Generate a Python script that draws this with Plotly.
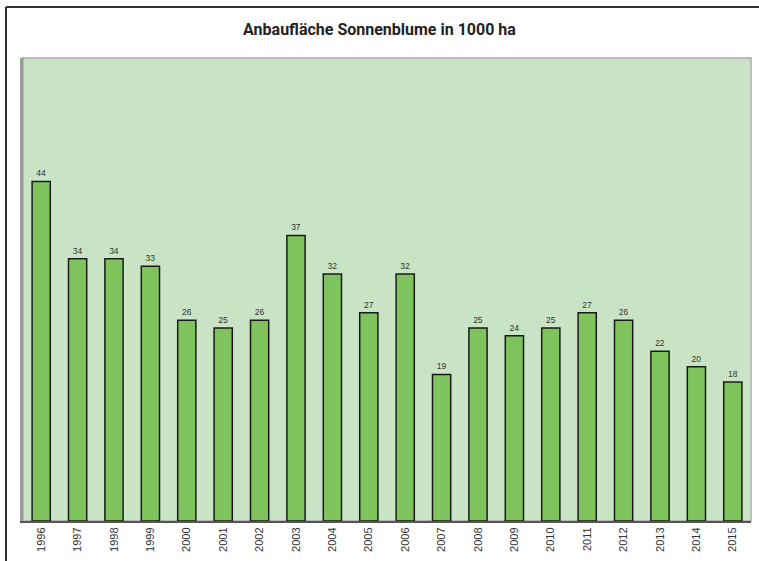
import plotly.graph_objects as go

years = [str(y) for y in range(1996, 2016)]
area = [44, 34, 34, 33, 26, 25, 26, 37, 32, 27, 32, 19, 25, 24, 25, 27, 26, 22, 20, 18]

W, H = 759, 561
ML, MR, MT, MB = 23, 8, 58, 40
pw, ph = W - ML - MR, H - MT - MB

def px_x(v):
    return (v - ML) / pw

def px_y(v):
    return (H - MB - v) / ph

fig = go.Figure(go.Bar(
    x=years, y=area,
    marker=dict(color="#7fc35c", line=dict(color="#1a1a1a", width=1.5)),
    text=[str(v) for v in area], textposition="outside",
    textfont=dict(size=8.5, color="#333333", family="Liberation Sans"),
    cliponaxis=False,
))

fig.update_layout(
    width=W, height=H,
    margin=dict(l=ML, r=MR, t=MT, b=MB),
    paper_bgcolor="white", plot_bgcolor="#c9e4c5",
    bargap=0.5,
    showlegend=False,
    title=dict(text="<b>Anbaufläche Sonnenblume in 1000 ha</b>", x=0.5, xanchor="center",
               y=1 - 29 / H, yanchor="middle",
               font=dict(family="Roboto", size=16, color="#222222")),
    xaxis=dict(tickangle=-90, tickfont=dict(family="Liberation Sans", size=11, color="#333333"),
               showline=True, linecolor="#555555", linewidth=2, ticks="", mirror=False),
    yaxis=dict(range=[0, 60], showticklabels=False, showgrid=False, zeroline=False,
               showline=True, linecolor="#999999", linewidth=3, ticks=""),
    shapes=[
        # plot frame on top and right
        dict(type="rect", xref="paper", yref="paper", x0=0, x1=1, y0=0, y1=1,
             line=dict(color="#aaaaaa", width=1.5), layer="below"),
        # outer chart border, left edge
        dict(type="line", xref="paper", yref="paper",
             x0=px_x(6), x1=px_x(6), y0=px_y(561), y1=px_y(7),
             line=dict(color="#333333", width=2)),
        # outer chart border, top edge
        dict(type="line", xref="paper", yref="paper",
             x0=px_x(6), x1=px_x(759), y0=px_y(7), y1=px_y(7),
             line=dict(color="#333333", width=2)),
    ],
)

fig.write_html("out.html")
